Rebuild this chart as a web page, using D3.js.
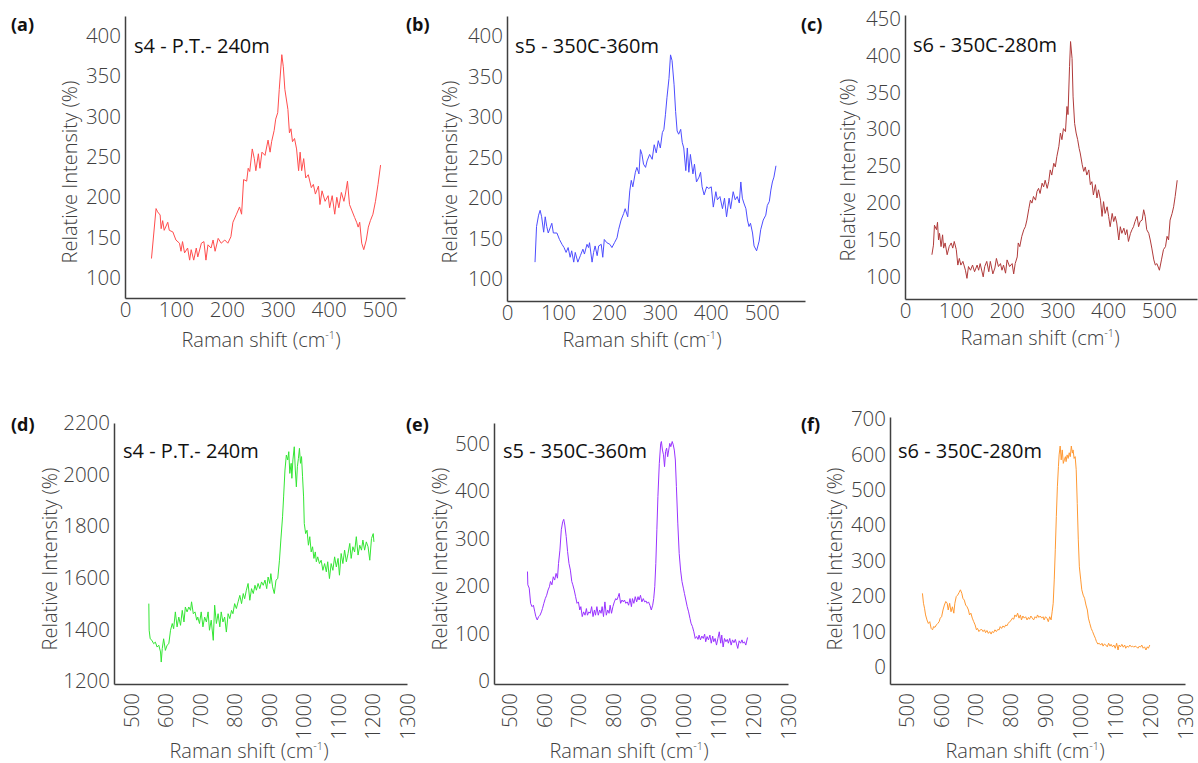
<!DOCTYPE html>
<html>
<head>
<meta charset="utf-8">
<script src="https://cdn.jsdelivr.net/npm/d3@7"></script>
<style>
  body { margin: 0; background: #fff; }
  svg { display: block; font-family: "Open Sans", "Noto Sans", sans-serif; }
</style>
</head>
<body>
<svg id="chart" width="1198" height="763"></svg>
<script>
// ---- Raman spectra (shift in cm-1, relative intensity in %) ----

// (a) s4 - P.T.- 240m, low range
const shiftA = [52,61,64,69,71,74,77,84,87,94,100,107,110,113,117,123,127,130,135,140,143,150,155,159,163,169,173,177,183,189,196,202,208,212,219,225,229,233,239,242,245,250,254,257,262,265,269,275,281,285,288,293,296,300,303,308,311,314,320,323,326,329,333,337,341,344,347,351,355,360,366,370,374,380,383,387,393,399,402,407,412,416,420,425,430,433,437,441,446,451,455,458,461,465,469,474,478,482,487,492,497,502];
const intensityA = [124,186,182,178,161,171,159,169,159,157,147,143,133,145,131,137,122,135,122,137,126,143,145,122,141,137,147,133,149,143,147,143,151,169,179,188,179,222,220,236,232,260,248,233,254,236,256,252,271,256,269,283,297,305,334,377,362,334,309,280,285,269,273,260,233,256,233,248,224,228,212,216,204,214,191,208,195,202,187,202,179,200,187,206,195,204,220,191,183,175,169,163,169,143,135,147,163,171,179,195,216,240];

// (b) s5 - 350C-360m, low range
const shiftB = [55,58,62,65,68,72,75,78,81,88,91,98,103,108,112,116,120,124,127,131,134,139,144,149,152,157,160,162,167,170,173,177,180,185,188,191,196,202,206,211,216,219,224,229,232,237,241,244,247,252,255,259,262,265,268,272,275,280,285,289,293,297,301,305,308,311,314,318,321,324,328,331,334,337,341,344,347,351,354,357,360,365,368,372,377,380,383,387,392,396,401,405,410,413,418,423,427,431,436,439,444,448,452,456,459,462,465,469,472,475,478,482,485,490,495,498,503,508,511,515,518,521,524,528];
const intensityB = [121,165,179,185,177,158,177,165,157,169,157,157,149,143,139,133,139,127,135,121,133,121,129,137,131,143,139,145,121,133,141,129,141,143,127,149,145,143,139,145,151,161,173,181,187,177,209,222,214,232,238,230,260,254,242,238,246,254,248,266,256,271,262,281,285,303,324,348,377,370,340,307,283,279,285,269,262,234,262,232,254,230,242,220,226,232,214,204,214,212,214,189,208,198,202,187,200,177,200,187,208,198,202,194,220,200,194,187,173,165,169,157,141,135,147,161,173,179,191,196,210,220,226,240];

// (c) s6 - 350C-280m, low range
const shiftC = [53,56,58,62,64,66,68,71,74,76,79,83,87,91,94,97,101,104,107,110,114,119,122,125,129,133,137,142,145,148,154,157,161,165,168,173,177,180,184,188,191,194,198,201,206,211,214,217,221,223,226,230,234,237,240,244,247,250,253,257,260,263,266,270,273,276,280,283,286,289,293,296,299,303,306,309,312,316,319,321,324,326,329,331,334,337,340,343,345,349,352,355,358,362,365,368,371,375,378,381,385,388,391,394,398,401,404,408,411,414,417,421,424,427,431,434,437,440,444,447,450,453,457,460,463,467,470,473,476,480,483,486,490,493,496,501,505,509,513,516,519,522,526,529,532,536];
const intensityC = [130,143,170,164,174,150,159,141,157,139,146,130,141,146,139,148,137,116,125,116,121,109,98,114,109,116,107,116,109,118,100,114,121,107,121,104,112,125,114,118,109,116,105,123,114,118,104,118,127,146,141,155,164,168,177,193,204,200,209,204,216,220,213,227,222,231,220,229,245,238,254,249,263,277,295,286,301,297,331,320,385,419,396,344,308,295,286,274,268,252,243,249,238,245,225,229,211,225,207,218,204,182,202,186,195,182,168,186,175,182,173,150,168,159,166,157,164,148,159,164,168,175,182,168,175,177,191,182,164,159,150,139,123,116,118,109,123,137,141,155,150,177,186,195,209,231];

// (d) s4 - P.T.- 240m, high range
const shiftD = [551,552,555,560,565,570,575,580,585,587,590,594,599,604,609,614,619,623,628,633,638,643,648,653,657,662,667,672,675,680,685,690,693,698,703,708,713,718,723,727,732,738,742,747,752,757,761,766,771,776,781,786,791,795,800,805,810,815,820,825,829,834,839,844,849,854,859,863,868,873,878,883,888,893,897,902,905,910,915,920,925,930,934,939,942,946,950,954,957,960,964,966,969,973,976,979,982,985,988,991,994,997,1000,1002,1006,1010,1014,1018,1022,1026,1030,1034,1037,1041,1046,1051,1056,1061,1066,1070,1075,1080,1085,1090,1095,1100,1104,1109,1114,1119,1124,1129,1134,1138,1143,1148,1153,1158,1163,1168,1172,1177,1182,1187,1192,1197,1202,1204];
const intensityD = [1501,1398,1365,1359,1346,1352,1333,1340,1314,1275,1327,1365,1320,1340,1346,1398,1424,1404,1469,1411,1449,1417,1475,1430,1488,1469,1488,1475,1508,1462,1469,1437,1449,1424,1469,1411,1449,1430,1469,1398,1437,1359,1495,1424,1462,1411,1469,1430,1449,1391,1462,1443,1475,1462,1501,1482,1508,1533,1501,1540,1520,1553,1579,1514,1559,1540,1572,1553,1579,1559,1585,1572,1592,1559,1604,1579,1617,1566,1540,1592,1598,1669,1747,1837,1914,2018,2076,2057,2089,2005,2044,1986,2057,2108,2018,1953,2031,2063,2102,2044,2070,1992,1914,1811,1772,1785,1727,1760,1701,1721,1676,1701,1663,1682,1656,1669,1630,1656,1624,1663,1598,1656,1630,1682,1643,1676,1611,1695,1656,1708,1663,1695,1734,1676,1721,1701,1760,1689,1727,1708,1747,1708,1740,1721,1669,1753,1772,1740];

// (e) s5 - 350C-360m, high range
const shiftE = [553,554,558,562,566,570,574,577,581,585,589,593,596,600,604,608,612,616,619,623,627,631,635,639,642,646,650,654,657,660,664,668,672,676,680,683,687,691,695,699,703,706,710,714,718,722,725,729,733,737,741,745,748,752,756,760,764,767,771,775,779,783,787,790,794,798,802,806,809,813,816,820,824,828,831,835,839,843,847,851,854,858,862,866,870,873,877,881,885,889,893,896,900,904,908,912,915,918,921,924,927,931,935,937,940,943,946,949,952,955,958,961,964,968,971,974,977,980,984,988,992,996,1000,1003,1007,1011,1015,1019,1022,1026,1030,1034,1038,1042,1045,1049,1053,1057,1061,1064,1068,1072,1076,1080,1084,1087,1091,1095,1099,1103,1107,1110,1114,1118,1122,1126,1129,1133,1137,1141,1145,1149,1152,1156,1160,1164,1168,1171,1175,1179,1184];
const intensityE = [231,203,196,164,157,160,146,136,129,136,139,146,153,164,174,181,192,199,210,203,220,213,227,217,248,276,319,336,341,329,305,273,248,234,210,203,192,178,164,167,150,157,136,146,139,153,139,146,143,157,136,150,139,157,139,150,143,157,136,167,139,150,143,160,143,157,167,174,171,178,185,164,171,167,171,164,167,160,174,157,174,164,178,167,178,171,181,167,174,167,169,164,167,160,150,160,174,199,248,319,389,459,501,505,487,477,452,484,491,473,487,501,494,505,498,487,466,410,333,269,234,210,196,185,171,157,146,132,122,115,104,90,94,88,97,87,95,90,99,83,94,87,97,80,95,83,90,76,90,104,80,97,72,90,83,88,80,90,76,87,81,88,80,69,85,80,87,80,83,76,92];

// (f) s6 - 350C-280m, high range
const shiftF = [547,550,553,556,560,564,568,572,576,579,583,587,591,595,598,602,606,610,614,618,621,625,629,633,637,640,644,648,652,656,660,663,667,671,675,679,682,686,690,694,698,702,705,709,713,717,721,725,728,732,736,740,744,747,751,755,759,763,767,770,774,778,782,786,789,793,797,801,805,809,812,816,820,824,828,831,835,839,843,847,851,854,858,862,866,870,874,877,881,885,889,893,896,900,904,908,912,916,919,922,925,928,931,934,937,939,942,945,948,951,954,957,959,962,965,968,971,974,977,979,982,985,988,991,994,997,1001,1004,1008,1012,1016,1020,1023,1027,1031,1035,1039,1043,1046,1050,1054,1058,1062,1065,1069,1073,1077,1081,1085,1088,1092,1096,1100,1104,1108,1111,1115,1119,1123,1127,1130,1134,1138,1142,1146,1150,1153,1157,1161,1165,1169,1172,1176,1180,1184,1188,1192,1195,1199];
const intensityF = [208,180,166,147,133,123,128,109,105,114,112,119,123,128,138,142,161,175,185,180,161,180,156,170,152,180,199,203,210,218,208,194,189,175,170,161,147,152,138,128,119,105,109,100,105,106,100,105,97,103,95,100,93,100,97,105,100,106,105,114,109,116,112,119,116,123,128,131,138,135,147,142,152,138,147,133,144,138,142,133,140,135,144,138,133,142,138,147,140,144,138,142,133,142,138,128,142,133,156,180,246,331,425,509,566,599,624,585,613,575,585,594,580,599,589,605,594,624,604,613,589,594,557,462,359,283,246,218,203,194,175,161,138,123,109,100,90,81,72,65,67,62,67,59,65,62,57,67,59,64,57,62,53,67,48,62,57,64,56,62,53,59,56,62,57,59,56,59,57,53,59,56,62,53,57,48,57,53,62];

// ---- tick labels ----
const xTicksLow = [0, 100, 200, 300, 400, 500];
const xTicksHigh = [500, 600, 700, 800, 900, 1000, 1100, 1200, 1300];
const yTicksAB = [100, 150, 200, 250, 300, 350, 400];
const yTicksC = [100, 150, 200, 250, 300, 350, 400, 450];
const yTicksD = [1200, 1400, 1600, 1800, 2000, 2200];
const yTicksE = [0, 100, 200, 300, 400, 500];
const yTicksF = [0, 100, 200, 300, 400, 500, 600, 700];

const panelLetters = ['(a)', '(b)', '(c)', '(d)', '(e)', '(f)'];
const sampleNames = ['s4 - P.T.- 240m', 's5 - 350C-360m', 's6 - 350C-280m',
                     's4 - P.T.- 240m', 's5 - 350C-360m', 's6 - 350C-280m'];

// ---- panel set-up: data, axis domains and where each panel sits ----
const panels = [
  { shift: shiftA, intensity: intensityA, xDomain: [0, 550], yDomain: [75, 425],
    xTicks: xTicksLow, yTicks: yTicksAB, color: '#ff4d4d', rotate: false,
    xRange: [125, 405], yRange: [298, 16], label: [11, 31], title: [134, 53], yTitle: [70, 172], xTitle: [261, 347] },
  { shift: shiftB, intensity: intensityB, xDomain: [0, 585], yDomain: [73, 425],
    xTicks: xTicksLow, yTicks: yTicksAB, color: '#4d4dff', rotate: false,
    xRange: [507, 805], yRange: [301, 16], label: [406, 31], title: [515, 53], yTitle: [450, 172], xTitle: [642, 347] },
  { shift: shiftC, intensity: intensityC, xDomain: [0, 575], yDomain: [70, 455],
    xTicks: xTicksLow, yTicks: yTicksC, color: '#b03a3a', rotate: false,
    xRange: [905, 1197], yRange: [299, 15], label: [801, 31], title: [913, 52], yTitle: [848, 170], xTitle: [1040, 345] },
  { shift: shiftD, intensity: intensityD, xDomain: [450, 1300], yDomain: [1190, 2200],
    xTicks: xTicksHigh, yTicks: yTicksD, color: '#33e633', rotate: true,
    xRange: [114, 407], yRange: [684, 423], label: [11, 431], title: [123, 458], yTitle: [50, 559], xTitle: [249, 758] },
  { shift: shiftE, intensity: intensityE, xDomain: [457, 1300], yDomain: [-6, 544],
    xTicks: xTicksHigh, yTicks: yTicksE, color: '#9933ff', rotate: true,
    xRange: [494, 788], yRange: [684, 423], label: [406, 431], title: [503, 458], yTitle: [440, 559], xTitle: [629, 758] },
  { shift: shiftF, intensity: intensityF, xDomain: [454, 1300], yDomain: [-48, 706],
    xTicks: xTicksHigh, yTicks: yTicksF, color: '#ff9933', rotate: true,
    xRange: [890, 1185], yRange: [684, 417], label: [801, 431], title: [898, 458], yTitle: [835, 559], xTitle: [1025, 758] }
];

const svg = d3.select('#chart');
const axisColor = '#404040';
const plain = d3.format('d');

panels.forEach((p, i) => {
  const x = d3.scaleLinear().domain(p.xDomain).range(p.xRange);
  const y = d3.scaleLinear().domain(p.yDomain).range(p.yRange);
  const g = svg.append('g');

  // spectrum
  const points = d3.zip(p.shift, p.intensity);
  g.append('path')
    .datum(points)
    .attr('fill', 'none')
    .attr('stroke', p.color)
    .attr('stroke-width', 1)
    .attr('stroke-linejoin', 'round')
    .attr('d', d3.line().x(d => x(d[0])).y(d => y(d[1])));

  // y axis
  const yAxis = g.append('g')
    .attr('transform', `translate(${p.xRange[0]},0)`)
    .call(d3.axisLeft(y).tickValues(p.yTicks).tickFormat(plain)
      .tickSize(0).tickSizeOuter(0).tickPadding(4));

  // x axis
  const xAxis = g.append('g')
    .attr('transform', `translate(0,${p.yRange[0]})`)
    .call(d3.axisBottom(x).tickValues(p.xTicks).tickFormat(plain)
      .tickSize(0).tickSizeOuter(0).tickPadding(4));

  [yAxis, xAxis].forEach(ax => {
    ax.attr('font-family', null).attr('font-size', null);
    ax.select('.domain').attr('stroke', axisColor).attr('stroke-width', 1.5);
    ax.selectAll('text')
      .attr('fill', axisColor)
      .attr('font-size', '20.5px')
      .attr('font-weight', 300);
  });

  if (p.rotate) {
    xAxis.selectAll('text')
      .attr('transform', 'rotate(-90)')
      .attr('text-anchor', 'end')
      .attr('x', -9)
      .attr('y', 0)
      .attr('dy', '0.35em');
  }

  // panel letter
  svg.append('text')
    .attr('x', p.label[0]).attr('y', p.label[1])
    .attr('font-size', '18px').attr('font-weight', 700).attr('fill', '#111')
    .text(panelLetters[i]);

  // sample name
  svg.append('text')
    .attr('x', p.title[0]).attr('y', p.title[1])
    .attr('font-size', '20px').attr('fill', '#111')
    .text(sampleNames[i]);

  // y title
  svg.append('text')
    .attr('transform', `translate(${p.yTitle[0]},${p.yTitle[1]}) rotate(-90)`)
    .attr('text-anchor', 'middle').attr('dy', '0.35em')
    .attr('font-size', '20px').attr('font-weight', 300).attr('fill', axisColor)
    .text('Relative Intensity (%)');

  // x title with superscript
  const xt = svg.append('text')
    .attr('x', p.xTitle[0]).attr('y', p.xTitle[1])
    .attr('text-anchor', 'middle')
    .attr('font-size', '20px').attr('font-weight', 300).attr('fill', axisColor);
  xt.append('tspan').text('Raman shift (cm');
  xt.append('tspan').attr('font-size', '11px').attr('dy', '-8').text('-1');
  xt.append('tspan').attr('dy', '8').text(')');
});
</script>
</body>
</html>
